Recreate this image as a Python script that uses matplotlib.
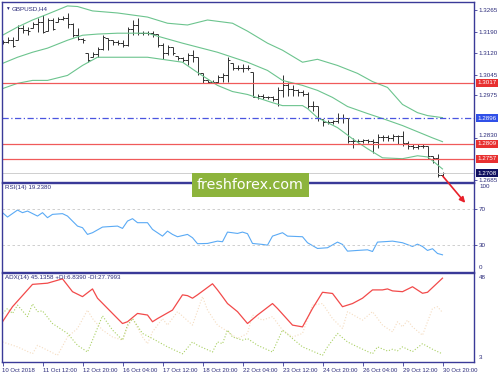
import numpy as np
import matplotlib
matplotlib.use('Agg')
import matplotlib.pyplot as plt
from matplotlib.patches import Rectangle, FancyArrowPatch
from matplotlib.transforms import blended_transform_factory

plt.rcParams['font.family'] = ['Liberation Sans', 'DejaVu Sans']

# GBPUSD H4 bars, 10 Oct .. 30 Oct 2018
highs = [1.3162, 1.3172, 1.3172, 1.3214, 1.3214, 1.3207, 1.3224, 1.3238, 1.3248, 1.3238,
         1.3238, 1.3241, 1.3245, 1.3255, 1.3220, 1.3203, 1.3169, 1.3118, 1.3121, 1.3138,
         1.3179, 1.3169, 1.3162, 1.3162, 1.3162, 1.3207, 1.3231, 1.3238, 1.3193, 1.3193,
         1.3193, 1.3183, 1.3152, 1.3145, 1.3138, 1.3107, 1.3104, 1.3118, 1.3128, 1.3104,
         1.3049, 1.3028, 1.3025, 1.3042, 1.3049, 1.3104, 1.3083, 1.3076, 1.3080, 1.3076,
         1.3052, 1.2980, 1.2980, 1.2973, 1.2973, 1.3001, 1.3042, 1.3018, 1.3008, 1.2997,
         1.2991, 1.2984, 1.2956, 1.2939, 1.2895, 1.2891, 1.2891, 1.2915, 1.2912, 1.2898,
         1.2829, 1.2826, 1.2826, 1.2826, 1.2826, 1.2843, 1.2840, 1.2840, 1.2843, 1.2840,
         1.2853, 1.2819, 1.2809, 1.2809, 1.2809, 1.2802, 1.2768, 1.2775, 1.2712]
lows = [1.3148, 1.3152, 1.3138, 1.3162, 1.3186, 1.3179, 1.3203, 1.3190, 1.3186, 1.3193,
        1.3196, 1.3224, 1.3231, 1.3203, 1.3172, 1.3162, 1.3152, 1.3087, 1.3104, 1.3104,
        1.3128, 1.3128, 1.3145, 1.3145, 1.3138, 1.3141, 1.3179, 1.3179, 1.3179, 1.3179,
        1.3172, 1.3138, 1.3097, 1.3111, 1.3111, 1.3094, 1.3087, 1.3076, 1.3087, 1.3042,
        1.3015, 1.3015, 1.3015, 1.3015, 1.3018, 1.3018, 1.3059, 1.3059, 1.3052, 1.3059,
        1.2967, 1.2963, 1.2963, 1.2963, 1.2956, 1.2939, 1.2967, 1.2973, 1.2973, 1.2973,
        1.2973, 1.2932, 1.2922, 1.2888, 1.2871, 1.2877, 1.2877, 1.2881, 1.2881, 1.2812,
        1.2795, 1.2812, 1.2812, 1.2812, 1.2778, 1.2795, 1.2819, 1.2819, 1.2819, 1.2809,
        1.2802, 1.2792, 1.2792, 1.2792, 1.2795, 1.2758, 1.2744, 1.2695, 1.2694]
closes = [1.3155, 1.3162, 1.3141, 1.3203, 1.3196, 1.3193, 1.3217, 1.3224, 1.3190, 1.3231,
          1.3200, 1.3234, 1.3238, 1.3217, 1.3179, 1.3165, 1.3162, 1.3094, 1.3114, 1.3131,
          1.3172, 1.3162, 1.3155, 1.3152, 1.3145, 1.3200, 1.3214, 1.3186, 1.3186, 1.3186,
          1.3183, 1.3145, 1.3118, 1.3138, 1.3118, 1.3100, 1.3094, 1.3111, 1.3104, 1.3049,
          1.3025, 1.3021, 1.3018, 1.3035, 1.3042, 1.3094, 1.3069, 1.3066, 1.3069, 1.3069,
          1.2970, 1.2973, 1.2970, 1.2970, 1.2963, 1.2991, 1.3008, 1.2997, 1.2991, 1.2984,
          1.2980, 1.2939, 1.2939, 1.2898, 1.2884, 1.2884, 1.2888, 1.2898, 1.2898, 1.2819,
          1.2819, 1.2819, 1.2822, 1.2819, 1.2815, 1.2833, 1.2833, 1.2829, 1.2836, 1.2836,
          1.2812, 1.2802, 1.2798, 1.2802, 1.2802, 1.2768, 1.2761, 1.2704, 1.2708]

# Bollinger bands (20, 2), sampled at bar indices
bb_up_idx = [0, 3, 6, 9, 13, 15, 18, 23, 29, 33, 37, 41, 46, 49, 53, 56, 60, 63, 67, 71,
             74, 77, 80, 83, 85, 88]
bb_up = [1.3179, 1.3207, 1.3231, 1.3251, 1.3279, 1.3277, 1.3262, 1.3255, 1.3241, 1.3220,
         1.3214, 1.3231, 1.3220, 1.3193, 1.3152, 1.3128, 1.3087, 1.3097, 1.3076, 1.3049,
         1.3021, 1.3001, 1.2943, 1.2915, 1.2905, 1.2898]
bb_mid_idx = [0, 3, 6, 9, 13, 16, 19, 23, 29, 31, 36, 43, 49, 53, 56, 60, 63, 66, 69, 73,
              76, 80, 83, 86, 88]
bb_mid = [1.3083, 1.3104, 1.3121, 1.3135, 1.3162, 1.3179, 1.3183, 1.3186, 1.3186, 1.3176,
          1.3152, 1.3121, 1.3087, 1.3059, 1.3025, 1.3008, 1.2991, 1.2967, 1.2936, 1.2912,
          1.2895, 1.2871, 1.2850, 1.2829, 1.2816]
bb_low_idx = [0, 3, 6, 9, 13, 16, 19, 23, 29, 36, 39, 43, 46, 49, 54, 56, 60, 61, 63, 67,
              70, 73, 76, 80, 83, 85, 86, 88]
bb_low = [1.2997, 1.3015, 1.3025, 1.3025, 1.3042, 1.3076, 1.3104, 1.3104, 1.3104, 1.3087,
          1.3052, 1.3008, 1.2987, 1.2977, 1.2949, 1.2939, 1.2939, 1.2929, 1.2898, 1.2864,
          1.2826, 1.2792, 1.2761, 1.2758, 1.2768, 1.2764, 1.2751, 1.2723]

# horizontal levels
red_levels = [1.3017, 1.2809, 1.2757]
blue_level = 1.2896
last_price = 1.2708
price_ticks = [1.3265, 1.3190, 1.3120, 1.3045, 1.2975, 1.2830, 1.2685]

# RSI(14)
rsi_idx = [0, 1, 3, 4, 5, 7, 8, 9, 10, 12, 13, 15, 16, 17, 18, 20, 21, 23, 24, 25,
           26, 27, 29, 30, 32, 33, 34, 35, 37, 38, 39, 41, 43, 44, 45, 47, 48, 49, 50, 52,
           53, 54, 56, 57, 60, 61, 63, 65, 67, 68, 69, 71, 73, 74, 75, 77, 78, 80, 82, 83,
           84, 85, 86, 87, 88]
rsi = [66.3, 61.4, 69.2, 66.3, 68.1, 62.5, 66.3, 60.7, 64.4, 65.2, 62.5, 51.3, 49.5, 42.0,
       43.9, 50.2, 50.6, 51.3, 48.7, 56.9, 59.6, 55.1, 55.1, 47.6, 40.1, 45.7, 42.0, 39.4,
       42.0, 38.3, 31.6, 31.9, 34.5, 33.8, 44.6, 43.1, 44.6, 42.8, 31.9, 30.8, 30.0, 40.1,
       43.9, 40.1, 39.4, 32.7, 26.3, 27.1, 33.4, 30.8, 23.3, 24.1, 24.8, 22.9, 33.4, 34.1,
       34.5, 32.7, 28.5, 31.1, 28.5, 24.1, 26.0, 20.7, 19.2]

# ADX(14), +DI, -DI
adx_idx = [0, 2, 6, 9, 12, 14, 16, 18, 19, 22, 24, 25, 27, 29, 30, 31, 34, 36, 37, 38,
           39, 42, 43, 44, 45, 47, 49, 51, 54, 55, 58, 60, 62, 64, 66, 68, 70, 72, 74, 76,
           77, 78, 80, 82, 84, 85, 88]
adx = [23.1, 30.7, 42.0, 42.6, 44.8, 38.3, 35.8, 39.7, 35.0, 27.3, 22.2, 23.1, 27.3, 26.5,
       23.1, 24.7, 29.0, 36.7, 36.3, 35.0, 36.7, 42.3, 39.2, 35.8, 32.3, 28.2, 22.2, 26.5,
       32.3, 29.8, 21.4, 20.5, 29.8, 38.0, 37.4, 30.7, 32.3, 35.0, 39.2, 39.2, 39.7, 38.7,
       38.3, 40.8, 37.5, 38.0, 45.14]
pdi_idx = [0, 1, 2, 3, 5, 6, 7, 8, 10, 13, 15, 17, 18, 20, 22, 24, 25, 26, 28, 30,
           33, 36, 38, 39, 42, 43, 44, 45, 46, 48, 49, 51, 54, 56, 58, 60, 64, 65, 67, 69,
           71, 74, 75, 77, 78, 79, 80, 82, 84, 86, 88]
pdi = [27.3, 29.8, 27.3, 31.5, 25.7, 32.1, 28.2, 28.6, 22.2, 17.2, 11.2, 7.8, 13.8, 26.1,
       18.9, 13.8, 21.4, 24.7, 17.2, 14.6, 10.4, 6.9, 12.9, 11.2, 7.8, 12.9, 12.0, 18.9,
       15.4, 13.8, 14.6, 11.2, 7.8, 18.9, 14.6, 10.4, 6.1, 10.4, 17.2, 12.9, 10.4, 6.9,
       10.4, 8.3, 9.2, 8.4, 10.4, 8.0, 12.0, 9.2, 6.84]
mdi_idx = [0, 3, 6, 7, 9, 11, 13, 15, 17, 18, 20, 22, 24, 25, 26, 28, 29, 30, 32, 33,
           35, 38, 40, 41, 43, 45, 47, 49, 50, 52, 54, 56, 58, 60, 62, 64, 66, 68, 69, 72,
           74, 76, 78, 79, 80, 81, 82, 84, 86, 87, 88]
mdi = [12.9, 10.4, 6.9, 11.2, 8.7, 6.1, 15.4, 19.7, 29.0, 24.7, 18.9, 15.4, 13.8, 20.5,
       24.7, 15.4, 12.0, 18.0, 24.7, 21.4, 28.2, 21.4, 35.8, 29.0, 21.4, 18.2, 14.6, 17.2,
       26.5, 23.9, 25.7, 18.9, 15.4, 17.2, 31.5, 32.3, 24.7, 19.7, 28.2, 23.9, 28.2, 21.4,
       18.0, 23.1, 20.5, 23.9, 20.5, 16.3, 29.8, 30.7, 27.8]

date_ticks = [0, 8, 16, 24, 32, 40, 48, 56, 64, 72, 80, 88]
date_labels = ['10 Oct 2018', '11 Oct 12:00', '12 Oct 20:00', '16 Oct 04:00',
               '17 Oct 12:00', '18 Oct 20:00', '22 Oct 04:00', '23 Oct 12:00',
               '24 Oct 20:00', '26 Oct 04:00', '29 Oct 12:00', '30 Oct 20:00']

NAVY = '#3a3a98'
TXT = '#2b2b7a'
FS = 4.5

W, H = 500, 375


def box(x0, y0, x1, y1):
    return [x0 / W, 1 - y1 / H, (x1 - x0) / W, (y1 - y0) / H]


fig = plt.figure(figsize=(5, 3.75), dpi=100)
ax1 = fig.add_axes(box(2, 2, 474, 182))
ax2 = fig.add_axes(box(2, 182.5, 474, 272))
ax3 = fig.add_axes(box(2, 272.5, 474, 361.5))

for ax in (ax1, ax2, ax3):
    ax.set_xlim(-0.1, 94.3)
    for s in ax.spines.values():
        s.set_color(NAVY)
        s.set_linewidth(1.0)
    ax.yaxis.tick_right()
    ax.tick_params(axis='y', colors=NAVY, labelcolor=TXT, labelsize=FS,
                   length=2, width=0.6, pad=1.5)
    ax.tick_params(axis='x', length=0, labelbottom=False)

# --- price panel ---
idx = np.arange(len(closes))
# opens taken as the previous close, kept inside the bar range
opens = np.clip(np.r_[closes[0], closes[:-1]], lows, highs)
bar_col = '#303030'
ax1.vlines(idx, lows, highs, color=bar_col, lw=0.7)
ax1.hlines(opens, idx - 0.45, idx, color=bar_col, lw=0.7)
ax1.hlines(closes, idx, idx + 0.45, color=bar_col, lw=0.7)

bb_col = '#6cc48e'
ax1.plot(bb_up_idx, bb_up, color=bb_col, lw=0.8)
ax1.plot(bb_mid_idx, bb_mid, color=bb_col, lw=0.8)
ax1.plot(bb_low_idx, bb_low, color=bb_col, lw=0.8)

for lv in red_levels:
    ax1.axhline(lv, color='#f05a5a', lw=0.9)
ax1.axhline(blue_level, color='#4a55e0', lw=0.9, ls=(0, (5, 2, 1, 2)))
ax1.axhline(last_price, color='#c8c8c8', lw=0.6)

ax1.set_ylim(1.26785, 1.32924)
ax1.set_yticks(price_ticks)
ax1.set_yticklabels([f'{p:.4f}' for p in price_ticks])
for lab in ax1.get_yticklabels():
    if lab.get_text() == '1.2830':
        lab.set_va('bottom')

trans = blended_transform_factory(fig.transFigure, ax1.transData)
labels = [(lv, '#e83030') for lv in red_levels] + [(blue_level, '#3050e8'), (last_price, '#101060')]
for lv, col in labels:
    ax1.text(477.5 / W, lv, f'{lv:.4f}', transform=trans, ha='left', va='center',
             fontsize=FS, color='white', clip_on=False,
             bbox=dict(boxstyle='square,pad=0.25', fc=col, ec='none'))

ax1.text(5 / W, 1 - 8.5 / H, '\u25bc', transform=fig.transFigure, fontsize=3.4,
         color=TXT, va='center', ha='left')
ax1.text(12 / W, 1 - 8.5 / H, 'GBPUSD,H4', transform=fig.transFigure, fontsize=FS,
         color=TXT, va='center', ha='left')

# --- RSI panel ---
ax2.plot(rsi_idx, rsi, color='#5aaaf5', lw=0.8)
for lv in (70, 30):
    ax2.axhline(lv, color='#c8c8c8', lw=0.6, ls=(0, (3, 3)))
ax2.set_ylim(0, 100)
ax2.set_yticks([70, 30])
ax2.set_yticklabels(['70', '30'])
ax2.text(479 / W, 1 - 187 / H, '100', transform=fig.transFigure, fontsize=FS,
         color=TXT, va='center', ha='left')
ax2.text(479 / W, 1 - 267.5 / H, '0', transform=fig.transFigure, fontsize=FS,
         color=TXT, va='center', ha='left')
ax2.text(5 / W, 1 - 188 / H, 'RSI(14) 19.2380', transform=fig.transFigure, fontsize=FS,
         color=TXT, va='center', ha='left')

# --- ADX panel ---
ax3.plot(mdi_idx, mdi, color='#f5dcc0', lw=0.8, ls=':')
ax3.plot(pdi_idx, pdi, color='#a9d063', lw=0.8, ls=':')
ax3.plot(adx_idx, adx, color='#f24a4a', lw=0.9)
ax3.set_ylim(3, 48)
ax3.set_yticks([])
ax3.text(479 / W, 1 - 277.5 / H, '48', transform=fig.transFigure, fontsize=FS,
         color=TXT, va='center', ha='left')
ax3.text(479 / W, 1 - 357.5 / H, '3', transform=fig.transFigure, fontsize=FS,
         color=TXT, va='center', ha='left')
ax3.text(5 / W, 1 - 277.5 / H, 'ADX(14) 45.1358 +DI:6.8390 -DI:27.7993',
         transform=fig.transFigure, fontsize=FS, color=TXT, va='center', ha='left')

ax3.set_xticks(date_ticks)
ax3.set_xticklabels(date_labels)
ax3.tick_params(axis='x', length=3, width=0.6, colors=NAVY, labelcolor=TXT,
                labelsize=4.3, labelbottom=True, pad=1.5)
for lab in ax3.get_xticklabels():
    lab.set_ha('left')

# watermark and arrow
fig.add_artist(Rectangle((192 / W, 1 - 197 / H), 117 / W, 24 / H,
                         transform=fig.transFigure, fc='#8db43c', ec='none', zorder=5))
fig.text(250.5 / W, 1 - 185 / H, 'freshforex.com', fontsize=10.3, color='white',
         ha='center', va='center', family='DejaVu Sans', zorder=6)
fig.add_artist(FancyArrowPatch((441 / W, 1 - 174 / H), (467 / W, 1 - 205 / H),
                               transform=fig.transFigure, arrowstyle='-|>',
                               mutation_scale=8, lw=1.2, color='#e8202a', zorder=7))

fig.savefig('out.png', dpi=100, facecolor='white')
